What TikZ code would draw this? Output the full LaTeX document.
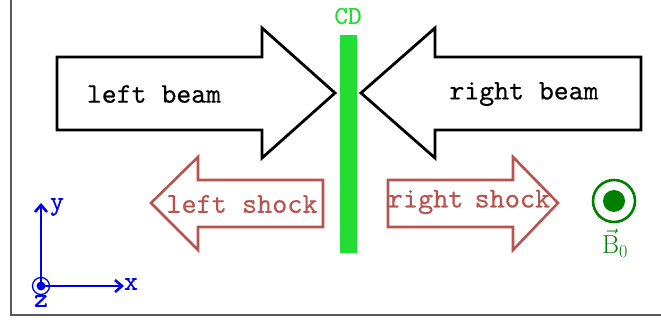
\RequirePackage{fix-cm}
\documentclass[tikz,border=0pt]{standalone}
\usepackage{amsmath}
\usepackage{fontspec}
\newfontfamily\heavytt{lmmono10-regular}[Extension=.otf,FakeBold=0.35]
\usetikzlibrary{arrows.meta}
\begin{document}
\begin{tikzpicture}[x=1pt,y=-1pt,
  beamarrow/.style={draw=black,line width=2.8pt,line join=miter,fill=white},
  shockarrow/.style={draw=shockred,line width=2.6pt,line join=miter,fill=white},
  beamtext/.style={font=\fontsize{28.4}{31}\selectfont\heavytt,text=black},
  shocktext/.style={font=\fontsize{28.8}{31}\selectfont\heavytt,text=shockred},
  axis/.style={draw=axisblue,line width=2.8pt,-{Straight Barb[length=7pt,width=12pt,line width=2.6pt]}},
  axislabel/.style={text=axisblue,font=\fontsize{27}{29}\selectfont\heavytt}]
\definecolor{shockred}{RGB}{184,84,80}
\definecolor{cdgreen}{RGB}{34,221,51}
\definecolor{bgreen}{RGB}{0,128,0}
\definecolor{axisblue}{RGB}{0,0,240}
\definecolor{framegray}{RGB}{90,90,90}
\useasboundingbox (0,0) rectangle (661,320);
% frame
\draw[framegray,line width=1.4pt] (11,0) -- (11,315) -- (661,315);
% incoming beams
\draw[beamarrow] (57,57) -- (262,57) -- (262,28) -- (335,93) -- (262,158) -- (262,130) -- (57,130) -- cycle;
\draw[beamarrow] (641,57) -- (435,57) -- (435,28) -- (361,93) -- (435,158) -- (435,130) -- (641,130) -- cycle;
\node[beamtext] (lb) at (154,94) {left beam};
\node[beamtext] (rb) at (524,94) {right beam};
% contact discontinuity
\fill[cdgreen] (340,35) rectangle (357,253);
\node[text=cdgreen,font=\fontsize{26}{28}\selectfont\heavytt] (cd) at (348,16) {CD};
% outgoing shocks
\draw[shockarrow] (323,180) -- (198,180) -- (198,157) -- (151,203) -- (198,250) -- (198,227) -- (323,227) -- cycle;
\draw[shockarrow] (388,180) -- (513,180) -- (513,157) -- (558,203) -- (513,250) -- (513,227) -- (388,227) -- cycle;
\node[shocktext] (ls) at (242,204) {left shock};
\node[shocktext] (rs) at (469,202) {right\kern-4pt\ shock};
% magnetic field out of plane
\draw[bgreen,line width=2.6pt] (614,201) circle (21);
\fill[bgreen] (614,201) circle (11);
\node[text=bgreen,font=\fontsize{26}{28}\selectfont,inner sep=0pt,anchor=base] (b0) at (615,254) {$\vec{\text{B}}_{\text{0}}$};
% coordinate axes
\coordinate (o) at (41,286);
\coordinate (ytip) at (41,203);
\coordinate (xtip) at (124,286);
\draw[axis] (o) -- (ytip);
\draw[axis] (o) -- (xtip);
\draw[axisblue,line width=1.3pt] (o) circle (8.5);
\fill[axisblue] (o) circle (4.5);
\node[axislabel] (yl) at (57,207) {y};
\node[axislabel] (xl) at (131,284) {x};
\node[axislabel] (zl) at (41,301) {z};
\end{tikzpicture}
\end{document}
